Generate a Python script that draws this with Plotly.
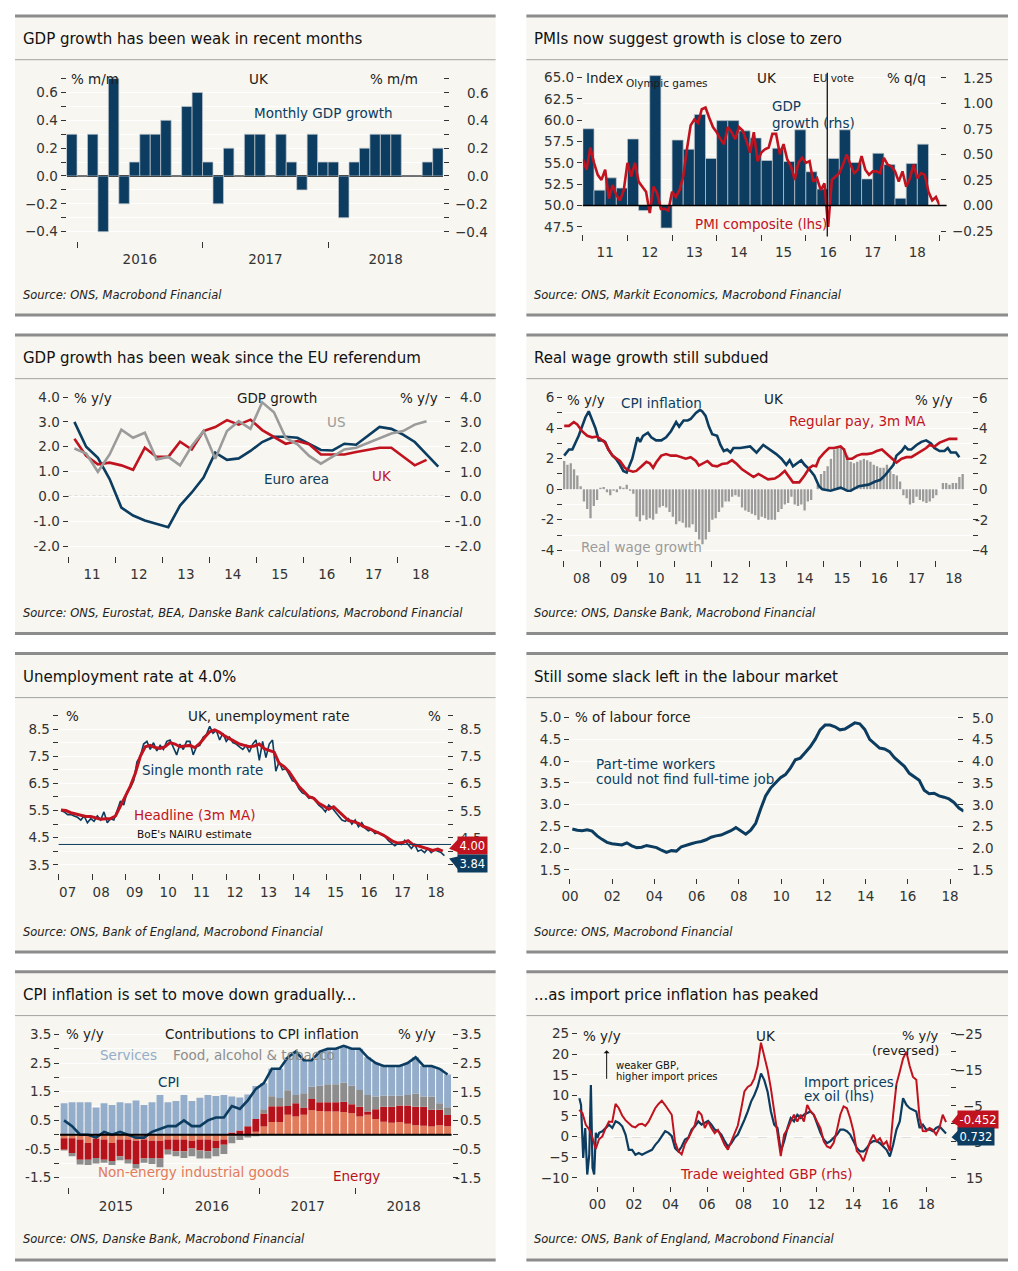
import numpy as np
import plotly.graph_objects as go

W, H = 1018, 1271
OFF = 8  # default page margin of the html body (left/top and right/bottom)
FONT = "DejaVu Sans"
BG = "#f7f6f0"
NAVY = "#0c3c5f"
RED = "#c0131f"
GREY = "#9b9b9b"
INK = "#1c1c1c"
TICKC = "#333333"
C_SERV, C_FOOD, C_ENER, C_NEIG = "#93adca", "#8d8d8d", "#b5121b", "#e27b5c"

# ======================= DATA =======================
titles = ["GDP growth has been weak in recent months",
          "PMIs now suggest growth is close to zero",
          "GDP growth has been weak since the EU referendum",
          "Real wage growth still subdued",
          "Unemployment rate at 4.0%",
          "Still some slack left in the labour market",
          "CPI inflation is set to move down gradually...",
          "...as import price inflation has peaked"]
sources = ["Source: ONS, Macrobond Financial",
           "Source: ONS, Markit Economics, Macrobond Financial",
           "Source: ONS, Eurostat, BEA, Danske Bank calculations, Macrobond Financial",
           "Source: ONS, Danske Bank, Macrobond Financial",
           "Source: ONS, Bank of England, Macrobond Financial",
           "Source: ONS, Macrobond Financial",
           "Source: ONS, Danske Bank, Macrobond Financial",
           "Source: ONS, Bank of England, Macrobond Financial"]

# Panel 1: UK monthly GDP growth % m/m, Dec 2015 - Nov 2018
gdp_mm = [0.3, 0.0, 0.3, -0.4, 0.7, -0.2, 0.1, 0.3, 0.3, 0.4, 0.0, 0.5, 0.6,
          0.1, -0.2, 0.2, 0.0, 0.3, 0.3, 0.0, 0.3, 0.1, -0.1, 0.3, 0.1,
          0.1, -0.3, 0.1, 0.2, 0.3, 0.3, 0.3, 0.0, 0.0, 0.1, 0.2]
p1_xlab = ["2016", "2017", "2018"]
p1_yv = [-0.4, -0.2, 0.0, 0.2, 0.4, 0.6]
p1_yt = ["−0.4", "−0.2", "0.0", "0.2", "0.4", "0.6"]
p1_ym = [-0.3, -0.1, 0.1, 0.3, 0.5, 0.7]

# Panel 2: GDP q/q (rhs, Q1 2011 - Q3 2018) and PMI composite (lhs, monthly Jan 2011 - Jan 2019)
gdp_qq = [0.75, 0.15, 0.27, 0.17, 0.65, -0.05, 1.27, -0.22, 0.64, 0.55, 0.89, 0.46,
          0.83, 0.83, 0.73, 0.66, 0.44, 0.56, 0.43, 0.74, 0.33, 0.16, 0.46, 0.74,
          0.42, 0.26, 0.51, 0.40, 0.07, 0.41, 0.60]
pmi = [55.4, 54.2, 56.8, 55.0, 53.6, 53.0, 54.2, 50.8, 52.4, 51.2, 50.6, 51.8,
       55.0, 53.4, 55.0, 52.8, 52.2, 51.6, 49.1, 52.2, 51.4, 49.6, 49.6, 49.4,
       51.6, 51.0, 51.8, 53.4, 56.6, 59.4, 60.1, 59.7, 61.3, 61.5, 60.3, 59.2,
       58.6, 57.8, 57.2, 59.2, 58.6, 57.8, 59.2, 58.8, 57.6, 56.2, 58.6, 55.2,
       56.2, 56.6, 56.8, 58.4, 58.4, 56.0, 57.2, 55.4, 54.6, 53.0, 55.0, 55.6,
       55.0, 55.2, 52.8, 53.2, 51.8, 52.6, 47.5, 53.0, 53.4, 53.8, 54.8, 56.0,
       54.8, 53.8, 54.2, 55.8, 54.2, 53.6, 54.0, 54.0, 53.8, 55.6, 54.8, 54.6,
       54.0, 52.8, 54.0, 52.2, 53.2, 54.8, 53.2, 53.8, 53.6, 51.6, 50.6, 51.0,
       50.0]
eu_vote = 2016.48
p2_xlab = ["11", "12", "13", "14", "15", "16", "17", "18"]
p2_lv = [47.5, 50.0, 52.5, 55.0, 57.5, 60.0, 62.5, 65.0]
p2_lt = ["47.5", "50.0", "52.5", "55.0", "57.5", "60.0", "62.5", "65.0"]
p2_rv = [-0.25, 0.0, 0.25, 0.5, 0.75, 1.0, 1.25]
p2_rt = ["−0.25", "0.00", "0.25", "0.50", "0.75", "1.00", "1.25"]

# Panel 3: GDP growth % y/y, quarterly from Q1 2011
gdp_ea = [3.0, 2.0, 1.55, 0.7, -0.45, -0.77, -0.97, -1.1, -1.24, -0.37, 0.16, 0.76,
          1.76, 1.47, 1.53, 1.83, 2.19, 2.4, 2.4, 2.36, 2.1, 1.87, 1.85, 2.12,
          2.08, 2.43, 2.8, 2.72, 2.49, 2.19, 1.69, 1.2]
gdp_uk = [2.32, 1.63, 1.29, 1.36, 1.25, 1.07, 1.96, 1.59, 1.59, 2.2, 1.89, 2.63,
          2.79, 3.07, 2.89, 3.09, 2.67, 2.4, 2.12, 2.23, 2.1, 1.69, 1.69, 1.69,
          1.79, 1.87, 1.96, 1.96, 1.6, 1.25, 1.47]
gdp_us = [1.93, 1.73, 0.99, 1.69, 2.69, 2.36, 2.56, 1.49, 1.59, 1.25, 2.03, 2.63,
          1.52, 2.63, 3.03, 2.72, 3.79, 3.39, 2.36, 2.1, 1.63, 1.32, 1.6, 1.89,
          1.96, 2.16, 2.36, 2.53, 2.63, 2.89, 3.03]
p3_xlab = ["11", "12", "13", "14", "15", "16", "17", "18"]
p3_yv = [-2, -1, 0, 1, 2, 3, 4]
p3_yt = ["-2.0", "-1.0", "0.0", "1.0", "2.0", "3.0", "4.0"]

# Panel 4: CPI inflation, regular pay (3m MA), real wage growth, % y/y
cpi_t = [2008.03, 2008.16, 2008.25, 2008.34, 2008.42, 2008.51, 2008.60, 2008.69, 2008.78, 2008.87,
         2008.96, 2009.06, 2009.13, 2009.22, 2009.33, 2009.42, 2009.53, 2009.62, 2009.71, 2009.80,
         2009.86, 2009.93, 2010.00, 2010.07, 2010.15, 2010.28, 2010.37, 2010.50, 2010.64, 2010.77,
         2010.90, 2011.04, 2011.12, 2011.24, 2011.35, 2011.43, 2011.57, 2011.68, 2011.74, 2011.83,
         2011.92, 2012.01, 2012.14, 2012.23, 2012.32, 2012.41, 2012.50, 2012.58, 2012.76, 2013.03,
         2013.20, 2013.38, 2013.56, 2013.73, 2013.87, 2014.00, 2014.09, 2014.18, 2014.40, 2014.49,
         2014.62, 2014.75, 2014.88, 2014.97, 2015.19, 2015.33, 2015.46, 2015.64, 2015.73, 2015.95,
         2016.21, 2016.39, 2016.52, 2016.65, 2016.79, 2016.88, 2016.96, 2017.10, 2017.19, 2017.27,
         2017.36, 2017.50, 2017.63, 2017.76, 2017.89, 2017.98, 2018.12, 2018.25, 2018.34, 2018.42,
         2018.56, 2018.65]
cpi_v = [2.2, 2.6, 2.6, 3.05, 3.5, 4.1, 4.7, 5.1, 4.6, 4.0,
         3.2, 3.2, 3.1, 2.6, 2.2, 2.0, 1.6, 1.2, 1.1, 1.6,
         2.0, 2.7, 3.4, 3.1, 3.5, 3.7, 3.4, 3.2, 3.2, 3.4,
         3.8, 4.4, 4.1, 4.5, 4.5, 4.6, 5.0, 5.2, 5.1, 4.8,
         4.1, 3.6, 3.5, 2.9, 2.5, 2.6, 2.4, 2.7, 2.7, 2.8,
         2.4, 2.9, 2.6, 2.3, 2.0, 1.6, 1.9, 1.5, 1.9, 1.6,
         1.3, 0.9, 0.2, 0.0, -0.1, 0.0, 0.1, -0.1, -0.1, 0.2,
         0.3, 0.5, 0.6, 0.9, 1.3, 1.6, 2.2, 2.5, 2.8, 2.6,
         2.6, 2.9, 3.1, 3.2, 3.0, 2.7, 2.5, 2.5, 2.7, 2.4,
         2.4, 2.1]
pay_t = [2008.03, 2008.16, 2008.29, 2008.38, 2008.51, 2008.65, 2008.78, 2008.91, 2009.00, 2009.13,
         2009.22, 2009.33, 2009.44, 2009.53, 2009.66, 2009.75, 2009.88, 2009.97, 2010.11, 2010.24,
         2010.33, 2010.42, 2010.50, 2010.64, 2010.77, 2010.90, 2011.04, 2011.17, 2011.30, 2011.43,
         2011.57, 2011.65, 2011.79, 2011.88, 2012.01, 2012.14, 2012.27, 2012.41, 2012.54, 2012.67,
         2012.81, 2012.98, 2013.12, 2013.25, 2013.38, 2013.51, 2013.69, 2013.82, 2013.96, 2014.09,
         2014.18, 2014.35, 2014.49, 2014.62, 2014.71, 2014.80, 2014.88, 2015.02, 2015.15, 2015.28,
         2015.46, 2015.55, 2015.64, 2015.77, 2015.90, 2016.04, 2016.17, 2016.30, 2016.43, 2016.57,
         2016.70, 2016.83, 2016.96, 2017.10, 2017.23, 2017.36, 2017.50, 2017.63, 2017.76, 2017.85,
         2017.98, 2018.12, 2018.25, 2018.38, 2018.51, 2018.60]
pay_v = [4.15, 4.15, 4.4, 4.25, 3.8, 3.5, 3.4, 3.45, 3.3, 3.05,
         2.6, 2.2, 2.0, 1.85, 1.4, 1.25, 1.15, 1.2, 1.5, 1.8,
         1.7, 1.4, 1.75, 2.2, 2.3, 2.2, 2.2, 2.1, 2.0, 2.1,
         1.85, 1.55, 1.75, 1.85, 1.55, 1.5, 1.65, 1.7, 1.9, 1.65,
         1.3, 1.0, 0.8, 1.0, 0.8, 0.65, 0.7, 0.9, 1.2, 0.75,
         0.45, 0.45, 0.9, 1.4, 1.55, 1.5, 2.0, 2.4, 2.7, 2.7,
         2.8, 2.6, 2.0, 2.0, 2.2, 2.3, 2.3, 2.35, 2.5, 2.6,
         2.3, 2.0, 1.75, 2.0, 2.1, 2.1, 2.3, 2.5, 2.7, 2.9,
         2.8, 3.05, 3.15, 3.3, 3.3, 3.3]
real_wage = [1.85, 1.6, 1.7, 1.3, 0.9, 0.2, -0.8, -1.3, -1.9, -1.1,
             -0.7, 0.1, 0.15, -0.2, -0.4, -0.1, -0.2, 0.2, 0.1, 0.3,
             -0.1, -0.3, -1.8, -2.1, -1.7, -2.0, -1.9, -2.0, -1.6, -1.2,
             -1.1, -1.2, -1.5, -1.8, -2.3, -2.1, -2.2, -2.5, -2.5, -2.3,
             -2.8, -3.3, -3.6, -3.3, -2.8, -2.0, -1.9, -1.5, -1.2, -0.8,
             -0.8, -0.5, -0.4, -0.5, -1.2, -1.4, -1.5, -1.6, -1.7, -2.0,
             -1.8, -1.9, -2.0, -2.0, -2.0, -1.5, -1.3, -1.0, -0.9, -0.5,
             -1.0, -1.1, -1.0, -1.4, -0.8, -0.7, 0.0, 0.3, 1.0, 1.2,
             1.5, 2.0, 2.6, 2.7, 2.8, 2.7, 2.2, 1.8, 1.7, 1.8,
             1.9, 2.0, 1.9, 1.8, 1.6, 1.5, 1.4, 1.4, 1.6, 1.2,
             1.0, 0.9, 0.5, -0.4, -0.6, -1.0, -0.9, -0.5, -0.7, -0.8,
             -0.9, -0.8, -0.6, -0.4, 0.0, 0.4, 0.4, 0.3, 0.4, 0.4,
             0.8, 1.0]
real_wage_span = (2008.03, 2018.74)
p4_xlab = ["08", "09", "10", "11", "12", "13", "14", "15", "16", "17", "18"]
p4_yv = [-4, -2, 0, 2, 4, 6]
p4_yt = ["-4", "-2", "0", "2", "4", "6"]
p4_ym = [-3, -1, 1, 3, 5]

# Panel 5: UK unemployment rate, %
unemp_single = [5.5, 5.45, 5.35, 5.35, 5.3, 5.25, 5.15, 5.3, 5.05, 5.2,
                5.1, 5.3, 5.15, 5.45, 5.05, 5.2, 5.15, 5.5, 5.85, 5.7,
                6.2, 6.35, 6.6, 7.3, 7.5, 7.95, 8.05, 7.75, 8.0, 7.7,
                7.9, 7.75, 8.05, 8.1, 7.85, 7.55, 7.95, 7.75, 8.05, 8.05,
                7.55, 7.85, 7.9, 8.2, 8.3, 8.6, 8.35, 8.45, 8.1, 8.35,
                8.05, 8.2, 8.0, 7.95, 7.85, 7.75, 7.9, 7.65, 7.95, 8.1,
                7.35, 8.05, 7.45, 7.95, 8.1, 6.95, 7.3, 7.0, 7.05, 6.8,
                6.6, 6.55, 6.3, 6.15, 6.1, 5.95, 6.0, 5.85, 5.7, 5.6,
                5.45, 5.7, 5.6, 5.45, 5.3, 5.15, 5.1, 5.2, 5.0, 5.15,
                4.9, 5.05, 4.85, 4.75, 4.8, 4.65, 4.7, 4.6, 4.55, 4.4,
                4.3, 4.2, 4.3, 4.25, 4.4, 4.25, 4.1, 4.25, 4.0, 4.05,
                3.95, 4.1, 3.95, 4.05, 4.0, 3.95, 3.84]
unemp_single_span = (2007.07, 2018.52)
unemp_3m = [5.52, 5.50, 5.42, 5.38, 5.33, 5.28, 5.28, 5.22, 5.18, 5.20,
            5.20, 5.30, 5.65, 6.05, 6.40, 6.87, 7.50, 7.85, 7.90, 7.82,
            7.79, 7.85, 8.00, 7.95, 7.85, 7.88, 7.90, 7.82, 7.97, 8.20,
            8.40, 8.47, 8.38, 8.25, 8.15, 8.08, 7.95, 7.90, 7.85, 7.88,
            7.95, 7.78, 7.72, 7.65, 7.24, 7.12, 6.93, 6.65, 6.38, 6.20,
            6.01, 5.95, 5.77, 5.67, 5.55, 5.64, 5.46, 5.28, 5.13, 5.09,
            5.03, 4.91, 4.85, 4.76, 4.69, 4.60, 4.48, 4.36, 4.30, 4.32,
            4.39, 4.24, 4.20, 4.15, 4.08, 4.03, 4.08, 4.00]
unemp_3m_span = (2007.07, 2018.47)
nairu = 4.25
p5_xlab = ["07", "08", "09", "10", "11", "12", "13", "14", "15", "16", "17", "18"]
p5_yv = [3.5, 4.5, 5.5, 6.5, 7.5, 8.5]
p5_yt = ["3.5", "4.5", "5.5", "6.5", "7.5", "8.5"]
p5_ym = [4, 5, 6, 7, 8, 9]

# Panel 6: involuntary part-time, % of labour force
part_time = [2.44, 2.41, 2.40, 2.42, 2.39, 2.28, 2.20, 2.13, 2.10, 2.09,
             2.07, 2.12, 2.05, 2.01, 2.02, 2.06, 2.03, 2.01, 1.95, 1.90,
             1.94, 1.93, 2.03, 2.07, 2.10, 2.13, 2.15, 2.19, 2.25, 2.28,
             2.30, 2.35, 2.40, 2.47, 2.39, 2.32, 2.41, 2.57, 2.90, 3.20,
             3.38, 3.50, 3.62, 3.69, 3.84, 4.03, 4.07, 4.20, 4.33, 4.50,
             4.72, 4.83, 4.83, 4.79, 4.72, 4.74, 4.82, 4.88, 4.86, 4.73,
             4.50, 4.40, 4.30, 4.28, 4.22, 4.08, 3.98, 3.88, 3.72, 3.64,
             3.56, 3.33, 3.25, 3.26, 3.20, 3.17, 3.13, 3.05, 2.92, 2.85]
part_time_span = (2000.11, 2018.65)
p6_xv = [2000, 2002, 2004, 2006, 2008, 2010, 2012, 2014, 2016, 2018]
p6_xlab = ["00", "02", "04", "06", "08", "10", "12", "14", "16", "18"]
p6_yv = [1.5, 2.0, 2.5, 3.0, 3.5, 4.0, 4.5, 5.0]
p6_yt = ["1.5", "2.0", "2.5", "3.0", "3.5", "4.0", "4.5", "5.0"]

# Panel 7: contributions to CPI inflation, Dec 2014 - Dec 2018
c_neig = [-0.12, -0.12, -0.17, -0.29, -0.14, -0.17, -0.29, -0.17, -0.17, -0.21, -0.17, -0.21, -0.21,
          -0.17, -0.17, -0.17, -0.21, -0.17, -0.17, -0.21, -0.17, -0.05, -0.03, 0.0, 0.10,
          0.29, 0.44, 0.44, 0.70, 0.64, 0.70, 0.85, 0.83, 0.81, 0.81, 0.79, 0.75,
          0.64, 0.70, 0.55, 0.45, 0.42, 0.44, 0.38, 0.33, 0.31, 0.29, 0.33, 0.30]
c_ener = [-0.40, -0.52, -0.70, -0.58, -0.67, -0.70, -0.63, -0.58, -0.70, -0.81, -0.66, -0.60, -0.62,
          -0.35, -0.41, -0.41, -0.27, -0.38, -0.41, -0.25, -0.18, 0.08, 0.15, 0.30, 0.45,
          0.45, 0.55, 0.55, 0.30, 0.46, 0.25, 0.40, 0.30, 0.32, 0.32, 0.36, 0.31,
          0.34, 0.11, 0.34, 0.53, 0.56, 0.58, 0.64, 0.65, 0.67, 0.58, 0.54, 0.39]
c_food = [-0.03, -0.11, -0.17, -0.19, -0.19, -0.11, -0.14, -0.14, -0.13, -0.16, -0.15, -0.21, -0.30,
          -0.17, -0.17, -0.23, -0.27, -0.28, -0.25, -0.29, -0.32, -0.25, -0.15, -0.10, -0.05,
          0.15, 0.35, 0.29, 0.55, 0.29, 0.50, 0.42, 0.58, 0.63, 0.63, 0.66, 0.65,
          0.58, 0.58, 0.44, 0.38, 0.38, 0.34, 0.37, 0.46, 0.35, 0.46, 0.23, 0.27]
c_serv = [1.10, 1.13, 1.13, 1.13, 0.95, 1.10, 1.04, 1.13, 1.10, 1.19, 1.04, 1.13, 1.39,
          1.13, 1.18, 1.39, 1.18, 1.29, 1.39, 1.35, 1.39, 1.25, 1.15, 1.10, 1.15,
          0.91, 0.96, 1.02, 1.15, 1.51, 1.15, 0.93, 1.19, 1.24, 1.24, 1.29, 1.29,
          1.44, 1.31, 1.17, 1.04, 1.04, 1.04, 1.11, 1.26, 1.07, 1.07, 1.20, 1.14]
cpi_m = [0.5, 0.3, 0.0, 0.0, -0.1, 0.1, 0.0, 0.1, 0.0, -0.1, -0.1, 0.1, 0.2,
         0.3, 0.3, 0.5, 0.3, 0.3, 0.5, 0.6, 0.6, 1.0, 0.9, 1.2, 1.6,
         1.8, 2.3, 2.3, 2.7, 2.9, 2.6, 2.6, 2.9, 3.0, 3.0, 3.1, 3.0,
         3.0, 2.7, 2.5, 2.4, 2.4, 2.4, 2.5, 2.7, 2.4, 2.4, 2.3, 2.1]
p7_xlab = ["2015", "2016", "2017", "2018"]
p7_yv = [-1.5, -0.5, 0.5, 1.5, 2.5, 3.5]
p7_yt = ["-1.5", "-0.5", "0.5", "1.5", "2.5", "3.5"]
p7_ym = [-1, 0, 1, 2, 3]

# Panel 8: import prices ex oil (lhs) and trade-weighted GBP (rhs, reversed), % y/y
imp_t_early = [1999.01, 1999.10, 1999.22, 1999.33, 1999.44, 1999.55, 1999.64, 1999.73, 1999.82, 1999.91, 2000.0, 2000.09]
imp_v_early = [9.3, 7.7, -5.2, 2.1, -9.2, -4.4, 12.5, -7.6, -9.2, 0.9, -0.3, 0.9]
imp_v = [1.3, 2.1, 2.9, 2.1, 3.7, 3.3, 2.5, 0.5, -3.2, -3.2,
         -4.4, -4.0, -4.4, -4.0, -3.6, -3.2, -2.0, -1.1, 0.1, 1.3,
         0.9, 0.1, -2.8, -3.6, -2.4, -0.7, -0.3, 1.7, 2.5, 3.7,
         2.9, 3.3, 3.8, 2.9, 1.7, 1.3, 0.5, -1.1, -2.4, -1.6,
         -0.3, 0.5, 2.1, 4.1, 6.1, 8.5, 10.1, 12.1, 15.3, 13.7,
         10.9, 6.1, 2.9, 2.1, -3.6, -1.1, 2.1, 4.5, 3.7, 5.3,
         4.5, 5.3, 5.7, 6.1, 5.3, 2.9, 0.9, -0.7, -1.6, -1.1,
         -0.3, 0.5, 1.7, 1.7, 1.3, 0.5, -1.1, -2.8, -3.6, -3.6,
         -2.8, -1.6, -1.1, -1.1, -1.6, -2.4, -3.2, -4.8, -2.0, 1.7,
         3.7, 9.3, 7.7, 6.9, 6.5, 6.1, 2.1, 2.9, 1.7, 1.7,
         1.3, 2.1, 2.5, 1.5, 0.732]
imp_span = (2000.27, 2019.08)
twi = [-3.85, -2.9, 0.3, 1.5, 3.8, 7.0, 4.3, 3.5, 1.2, -0.6,
       -0.5, -5.5, -4.3, -2.3, -1.0, -0.2, 0.7, 1.0, 0.2, 0.0,
       0.6, -0.6, -2.5, -4.3, -5.5, -6.4, -5.2, -3.85, -2.5, 5.0,
       7.6, 8.5, 5.6, 4.0, 2.0, 0.3, -3.5, -2.5, 1.2, -0.6,
       1.2, 2.6, 1.7, 4.0, 5.8, 7.2, 5.0, 3.0, 0.5, -4.0,
       -9.0, -10.2, -10.8, -12.6, -16.0, -22.5, -19.0, -15.0, -9.8, -3.4,
       3.0, 9.0, 3.0, 1.5, -0.6, -2.5, -0.6, -2.5, -0.6, -5.2,
       -3.4, -2.5, -0.6, 1.2, 4.9, 6.3, 6.7, 5.3, 1.7, -2.5,
       -4.8, -4.3, -1.55, 2.1, 7.6, 8.6, 10.4, 7.6, 4.9, 3.0,
       4.9, 4.0, 5.8, 4.9, 7.6, -2.5, -11.0, -14.4, -18.1, -20.0,
       -16.0, -13.0, -12.2, -1.55, 2.0, 2.1, 1.2, 1.7, 3.0, 1.2,
       -2.5, -0.452]
twi_span = (1999.0, 2019.08)
p8_xv = [2000, 2002, 2004, 2006, 2008, 2010, 2012, 2014, 2016, 2018]
p8_xlab = ["00", "02", "04", "06", "08", "10", "12", "14", "16", "18"]
p8_lv = [-10, -5, 0, 5, 10, 15, 20, 25]
p8_lt = ["−10", "−5", "0", "5", "10", "15", "20", "25"]
p8_rv = [-25, -15, -5, 5, 15]
p8_rt = ["−25", "−15", "−5", "5", "15"]
p8_rm = [-20, -10, 0, 10]

# ======================= LAYOUT HELPERS =======================
# figure sized so that page (8px body margin on every side) exactly fills the window: no scrolling
FW, FH = W - 2 * OFF, H - 2 * OFF
def PX(x): return (x - OFF) / FW
def PY(y): return 1 - (y - OFF) / FH

TS = 13.5
TF = dict(family=FONT, size=TS, color=TICKC)
LS = 13.5  # in-chart label size
layout = dict(width=FW, height=FH, margin=dict(l=0, r=0, t=0, b=0), autosize=False,
              paper_bgcolor="white", plot_bgcolor="rgba(0,0,0,0)", showlegend=False,
              font=dict(family=FONT, size=13, color=TICKC), barmode="relative")
shapes, annos, traces = [], [], []

def ann(x, y, s, size=LS, color=INK, xa="left", ya="middle", **kw):
    annos.append(dict(x=PX(x), y=PY(y), xref="paper", yref="paper", text=s, showarrow=False,
                      xanchor=xa, yanchor=ya, font=dict(family=FONT, size=size, color=color), **kw))

def xax(name, x0, x1, anchor, rng, vals, text, minor=None, marks=False):
    d = dict(domain=[PX(x0), PX(x1)], range=rng, anchor=anchor, tickmode="array",
             tickvals=vals, ticktext=text, ticks="outside", ticklen=6, tickwidth=1,
             tickcolor=TICKC if marks else "rgba(0,0,0,0)", tickfont=TF,
             showgrid=False, zeroline=False, showline=False, fixedrange=True)
    if minor is not None:
        d["minor"] = dict(tickmode="array", tickvals=minor, ticks="outside", ticklen=6,
                          tickwidth=1, tickcolor=TICKC, showgrid=False)
    layout[name] = d

def yax(name, ytop, ybot, rng, anchor, side, vals, text=None, minor=None, grid=True,
        overlaying=None, labels=True, ticks="outside"):
    d = dict(domain=[PY(ybot), PY(ytop)], range=rng, anchor=anchor, side=side, tickmode="array",
             tickvals=vals, ticks=ticks, ticklen=5, tickwidth=1, tickcolor=TICKC, tickfont=TF,
             showticklabels=labels, showgrid=grid, gridcolor="white", gridwidth=1,
             zeroline=False, showline=False, fixedrange=True)
    if text is not None:
        d["ticktext"] = text
    if minor is not None:
        d["minor"] = dict(tickmode="array", tickvals=minor, ticks=ticks, ticklen=5, tickwidth=1,
                          tickcolor=TICKC, showgrid=grid, gridcolor="white", gridwidth=1)
    if overlaying:
        d["overlaying"] = overlaying
    layout[name] = d

def rlabels(yref, vals, text, xr):
    for v, t in zip(vals, text):
        annos.append(dict(x=PX(xr), y=v, xref="paper", yref=yref, text=t, showarrow=False,
                          xanchor="right", yanchor="middle", font=TF))

def dummy(xa, ya):
    traces.append(go.Scatter(x=[None], y=[None], xaxis=xa, yaxis=ya, hoverinfo="skip", showlegend=False))

def hline_paper(x0, x1, yref, yv, color, width, dash="solid", layer="above"):
    shapes.append(dict(type="line", xref="paper", yref=yref, x0=PX(x0), x1=PX(x1), y0=yv, y1=yv,
                       line=dict(color=color, width=width, dash=dash), layer=layer))

def value_box(tipx, tipy, x0, yc, txt, color, size=11.5):
    path = "M {} {} L {} {} L {} {} Z".format(PX(tipx), PY(tipy), PX(x0 + 1), PY(yc - 6.5), PX(x0 + 1), PY(yc + 6.5))
    shapes.append(dict(type="path", xref="paper", yref="paper", path=path, fillcolor=color,
                       line=dict(width=0), layer="above"))
    annos.append(dict(x=PX(x0), y=PY(yc), xref="paper", yref="paper", text=txt, showarrow=False,
                      xanchor="left", yanchor="middle", bgcolor=color, borderpad=1.5,
                      font=dict(family=FONT, size=size, color="white")))

# ======================= PANEL FRAMES =======================
COLS = [(6, 491), (522, 1008)]
TOPS = [9, 330, 650.5, 971]
BOTS = [310, 630.5, 951, 1261]
TITLE_Y = [32, 353, 674, 994]
RULE_Y = [53, 374, 695, 1015]
SRC_Y = [290, 610, 931, 1240]
for i in range(8):
    r, c = i // 2, i % 2
    x0, x1 = COLS[c]
    shapes.append(dict(type="rect", xref="paper", yref="paper", x0=PX(x0), x1=PX(x1),
                       y0=PY(BOTS[r]), y1=PY(TOPS[r]), fillcolor=BG, line=dict(width=0), layer="below"))
    for y, w, col in [(TOPS[r], 3, "#8c8c8c"), (BOTS[r], 3, "#8c8c8c"), (RULE_Y[r], 1, "#a3a3a3")]:
        shapes.append(dict(type="line", xref="paper", yref="paper", x0=PX(x0), x1=PX(x1),
                           y0=PY(y), y1=PY(y), line=dict(color=col, width=w), layer="below"))
    ann(x0 + 6, TITLE_Y[r], titles[i], size=15, color="#111111")
    ann(x0 + 6, SRC_Y[r], "<i>" + sources[i] + "</i>", size=11.5, color="#222222")

# ======================= PANEL 1 =======================
n1 = len(gdp_mm)
xax("xaxis", 58, 438, "y", [-0.5, n1 - 0.5], [6.5, 18.5, 30.0], p1_xlab, minor=[0.5, 12.5, 24.5])
yax("yaxis", 72, 235, [-0.464, 0.7], "x", "left", p1_yv, p1_yt, minor=p1_ym)
layout["yaxis"].update(zeroline=True, zerolinecolor="black", zerolinewidth=2)
yax("yaxis2", 72, 235, [-0.464, 0.7], "x", "right", p1_yv, minor=p1_ym, grid=False, overlaying="y", labels=False)
traces.append(go.Bar(x=np.arange(n1), y=gdp_mm, width=1.0, xaxis="x", yaxis="y",
                     marker=dict(color=NAVY, line=dict(color="#c4c9cf", width=0.7)), hoverinfo="skip"))
dummy("x", "y2")
rlabels("y2", p1_yv, p1_yt, 485)
ann(60, 72, "% m/m")
ann(252, 72, "UK", xa="center")
ann(415, 72, "% m/m", xa="right")
ann(317, 107, "Monthly GDP growth", size=13.5, color=NAVY, xa="center")

# ======================= PANEL 2 =======================
q_x = 2011.125 + 0.25 * np.arange(len(gdp_qq))
m_x = 2011 + np.arange(len(pmi)) / 12.0
xax("xaxis2", 579, 939, "y3", [2011, 2019], [2011.5 + k for k in range(8)], p2_xlab,
    minor=[2011 + k for k in range(9)])
yax("yaxis3", 68.5, 228, [-0.275, 1.275], "x2", "right", p2_rv, labels=False, grid=True)
yax("yaxis4", 68.5, 228, [46.7, 65.3], "x2", "left", p2_lv, p2_lt, grid=False, overlaying="y3")
traces.append(go.Bar(x=q_x, y=gdp_qq, width=0.25, xaxis="x2", yaxis="y3",
                     marker=dict(color=NAVY, line=dict(color="#c4c9cf", width=0.7)), hoverinfo="skip"))
traces.append(go.Scatter(x=m_x, y=pmi, mode="lines", line=dict(color=RED, width=2.6),
                         xaxis="x2", yaxis="y4", hoverinfo="skip"))
rlabels("y3", p2_rv, p2_rt, 995)
hline_paper(579, 946, "y3", 0, "black", 1.4)
shapes.append(dict(type="line", xref="x2", yref="paper", x0=eu_vote, x1=eu_vote, y0=PY(231), y1=PY(66),
                   line=dict(color="black", width=1.2), layer="above"))
ann(580, 71, "Index")
ann(664, 76, "Olympic games", size=10.5, xa="center")
ann(765, 71, "UK", xa="center")
ann(832, 71, "EU vote", size=10.5, xa="center")
ann(927, 71, "% q/q", xa="right")
ann(768, 100, "GDP", color=NAVY)
ann(768, 117, "growth (rhs)", color=NAVY)
ann(759, 218, "PMI composite (lhs)", color=RED, xa="center")

# ======================= PANEL 3 =======================
k_x = 2011.125 + 0.25 * np.arange(len(gdp_ea))
xax("xaxis3", 60, 439, "y5", [2011, 2019], [2011.5 + k for k in range(8)], p3_xlab,
    minor=[2011 + k for k in range(8)])
yax("yaxis5", 390, 552.5, [-2.4, 4.1], "x3", "left", p3_yv, p3_yt)
yax("yaxis6", 390, 552.5, [-2.4, 4.1], "x3", "right", p3_yv, grid=False, overlaying="y5", labels=False)
hline_paper(60, 440, "y5", 0, "black", 1, dash="dot", layer="below")
traces.append(go.Scatter(x=k_x, y=gdp_ea, mode="lines", line=dict(color=NAVY, width=2.6), xaxis="x3", yaxis="y5", hoverinfo="skip"))
traces.append(go.Scatter(x=k_x[:len(gdp_uk)], y=gdp_uk, mode="lines", line=dict(color=RED, width=2.6), xaxis="x3", yaxis="y5", hoverinfo="skip"))
traces.append(go.Scatter(x=k_x[:len(gdp_us)], y=gdp_us, mode="lines", line=dict(color=GREY, width=2.6), xaxis="x3", yaxis="y5", hoverinfo="skip"))
dummy("x3", "y6")
rlabels("y6", p3_yv, p3_yt, 478)
ann(63, 393, "% y/y")
ann(270, 393, "GDP growth", xa="center")
ann(435, 393, "% y/y", xa="right")
ann(330, 418, "US", color=GREY, xa="center")
ann(290, 475, "Euro area", color=NAVY, xa="center")
ann(376, 472, "UK", color=RED, xa="center")

# ======================= PANEL 4 =======================
rw_x = np.linspace(real_wage_span[0], real_wage_span[1], len(real_wage))
xax("xaxis4", 559, 972, "y7", [2008, 2019], [2008.5 + k for k in range(11)], p4_xlab,
    minor=[2008 + k for k in range(11)])
yax("yaxis7", 390, 556.7, [-4.65, 6.2], "x4", "left", p4_yv, p4_yt, minor=p4_ym)
yax("yaxis8", 390, 556.7, [-4.65, 6.2], "x4", "right", p4_yv, minor=p4_ym, grid=False, overlaying="y7", labels=False)
traces.append(go.Bar(x=rw_x, y=real_wage, width=0.062, xaxis="x4", yaxis="y7",
                     marker=dict(color=GREY, line=dict(width=0)), hoverinfo="skip"))
traces.append(go.Scatter(x=cpi_t, y=cpi_v, mode="lines", line=dict(color=NAVY, width=2.6), xaxis="x4", yaxis="y7", hoverinfo="skip"))
traces.append(go.Scatter(x=pay_t, y=pay_v, mode="lines", line=dict(color=RED, width=2.6), xaxis="x4", yaxis="y7", hoverinfo="skip"))
dummy("x4", "y8")
rlabels("y8", p4_yv, p4_yt, 990)
ann(561, 395, "% y/y")
ann(658, 398, "CPI inflation", color=NAVY, xa="center")
ann(772, 394, "UK", xa="center")
ann(955, 395, "% y/y", xa="right")
ann(856, 417, "Regular pay, 3m MA", color=RED, xa="center")
ann(638, 543, "Real wage growth", color=GREY, xa="center")

# ======================= PANEL 5 =======================
us_x = np.linspace(unemp_single_span[0], unemp_single_span[1], len(unemp_single))
u3_x = np.linspace(unemp_3m_span[0], unemp_3m_span[1], len(unemp_3m))
xax("xaxis5", 50, 442, "y9", [2007, 2018.6], [2007.27 + k for k in range(12)], p5_xlab,
    minor=[2007 + k for k in range(12)])
yax("yaxis9", 712.5, 872, [3.18, 9.02], "x5", "left", p5_yv, p5_yt, minor=p5_ym)
yax("yaxis10", 712.5, 872, [3.18, 9.02], "x5", "right", p5_yv, minor=p5_ym, grid=False, overlaying="y9", labels=False)
traces.append(go.Scatter(x=us_x, y=unemp_single, mode="lines", line=dict(color=NAVY, width=1.6), xaxis="x5", yaxis="y9", hoverinfo="skip"))
traces.append(go.Scatter(x=u3_x, y=unemp_3m, mode="lines", line=dict(color=RED, width=3), xaxis="x5", yaxis="y9", hoverinfo="skip"))
dummy("x5", "y10")
rlabels("y10", p5_yv, p5_yt, 478)
hline_paper(50, 446, "y9", nairu, NAVY, 1)
ann(55, 714, "%")
ann(262, 714, "UK, unemployment rate", xa="center")
ann(438, 714, "%", xa="right")
ann(195, 768, "Single month rate", color=NAVY, xa="center")
ann(187, 813, "Headline (3m MA)", color=RED, xa="center")
ann(187, 832, "BoE's NAIRU estimate", size=10.5, color="#111111", xa="center")
value_box(444, 847, 452, 844, "4.00", RED)
value_box(444, 857, 452, 861.5, "3.84", NAVY)

# ======================= PANEL 6 =======================
pt_x = np.linspace(part_time_span[0], part_time_span[1], len(part_time))
xax("xaxis6", 566, 963, "y11", [2000, 2018.63], p6_xv, p6_xlab, marks=True)
layout["xaxis6"]["ticklen"] = 5
yax("yaxis11", 713, 877, [1.3, 5.05], "x6", "left", p6_yv, p6_yt)
yax("yaxis12", 713, 877, [1.3, 5.05], "x6", "right", p6_yv, grid=False, overlaying="y11", labels=False, ticks="inside")
traces.append(go.Scatter(x=pt_x, y=part_time, mode="lines", line=dict(color=NAVY, width=3), xaxis="x6", yaxis="y11", hoverinfo="skip"))
dummy("x6", "y12")
rlabels("y12", p6_yv, p6_yt, 995)
ann(569, 715, "% of labour force")
ann(590, 762, "Part-time workers", color=NAVY)
ann(590, 777, "could not find full-time job", color=NAVY)

# ======================= PANEL 7 =======================
n7 = len(cpi_m)
j = np.arange(n7)
xax("xaxis7", 51.5, 446.5, "y13", [-0.5, n7 - 0.5], [6.5, 18.5, 30.5, 42.5], p7_xlab,
    minor=[0.5, 12.5, 24.5, 36.5])
yax("yaxis13", 1032.5, 1188, [-1.84, 3.55], "x7", "left", p7_yv, p7_yt, minor=p7_ym)
yax("yaxis14", 1032.5, 1188, [-1.84, 3.55], "x7", "right", p7_yv, minor=p7_ym, grid=False, overlaying="y13", labels=False)
for vals, col in [(c_neig, C_NEIG), (c_ener, C_ENER), (c_food, C_FOOD), (c_serv, C_SERV)]:
    traces.append(go.Bar(x=j, y=vals, width=0.86, xaxis="x7", yaxis="y13",
                         marker=dict(color=col, line=dict(width=0)), hoverinfo="skip"))
traces.append(go.Scatter(x=j, y=cpi_m, mode="lines", line=dict(color=NAVY, width=2.6), xaxis="x7", yaxis="y13", hoverinfo="skip"))
dummy("x7", "y14")
rlabels("y14", p7_yv, p7_yt, 478)
hline_paper(51.5, 446.5, "y13", 0, "black", 2)
ann(55, 1034, "% y/y")
ann(255, 1034, "Contributions to CPI inflation", xa="center")
ann(433, 1034, "% y/y", xa="right")
ann(121, 1055, "Services", color=C_SERV, xa="center")
ann(247, 1055, "Food, alcohol &amp; tobacco", color=C_FOOD, xa="center")
ann(161, 1082, "CPI", color=NAVY, xa="center")
ann(186, 1172, "Non-energy industrial goods", color=C_NEIG, xa="center")
ann(351, 1176, "Energy", color=C_ENER, xa="center")

# ======================= PANEL 8 =======================
imp_x = list(imp_t_early) + list(np.linspace(imp_span[0], imp_span[1], len(imp_v)))
imp_y = list(imp_v_early) + list(imp_v)
twi_x = np.linspace(twi_span[0], twi_span[1], len(twi))
xax("xaxis8", 574, 949.5, "y15", [1998.93, 2019.3], p8_xv, p8_xlab, marks=True)
layout["xaxis8"]["ticklen"] = 5
yax("yaxis15", 1031, 1187, [-12.1, 25.5], "x8", "left", p8_lv, p8_lt)
yax("yaxis16", 1031, 1187, [17.4, -25.6], "x8", "right", p8_rv, minor=p8_rm, grid=False, overlaying="y15", labels=False)
hline_paper(574, 949.5, "y15", 0, "black", 1, dash="dash", layer="below")
traces.append(go.Scatter(x=imp_x, y=imp_y, mode="lines", line=dict(color=NAVY, width=2.2), xaxis="x8", yaxis="y15", hoverinfo="skip"))
traces.append(go.Scatter(x=twi_x, y=twi, mode="lines", line=dict(color=RED, width=2.0), xaxis="x8", yaxis="y16", hoverinfo="skip"))
rlabels("y16", p8_rv, p8_rt, 985)
ann(577, 1036, "% y/y")
ann(764, 1036, "UK", xa="center")
ann(940, 1035, "% y/y", size=13, xa="right")
ann(940, 1050, "(reversed)", size=13, xa="right")
ann(610, 1065, "weaker GBP,", size=10, color="#111111")
ann(610, 1076, "higher import prices", size=10, color="#111111")
annos.append(dict(x=PX(603), y=PY(1050), xref="paper", yref="paper", ax=0, ay=30, text="",
                  showarrow=True, arrowhead=1, arrowsize=1, arrowwidth=1, arrowcolor="#111111"))
ann(800, 1082, "Import prices,", color=NAVY)
ann(800, 1096, "ex oil (lhs)", color=NAVY)
ann(764, 1174, "Trade weighted GBP (rhs)", color=RED, xa="center")
value_box(951, 1122, 957, 1120, "-0.452", RED)
value_box(951, 1137.5, 957, 1136.7, "0.732", NAVY)

# ======================= BUILD =======================
layout["shapes"] = shapes
layout["annotations"] = annos
fig = go.Figure(data=traces, layout=layout)
fig.write_html("out.html", config={"displayModeBar": False, "staticPlot": True})
